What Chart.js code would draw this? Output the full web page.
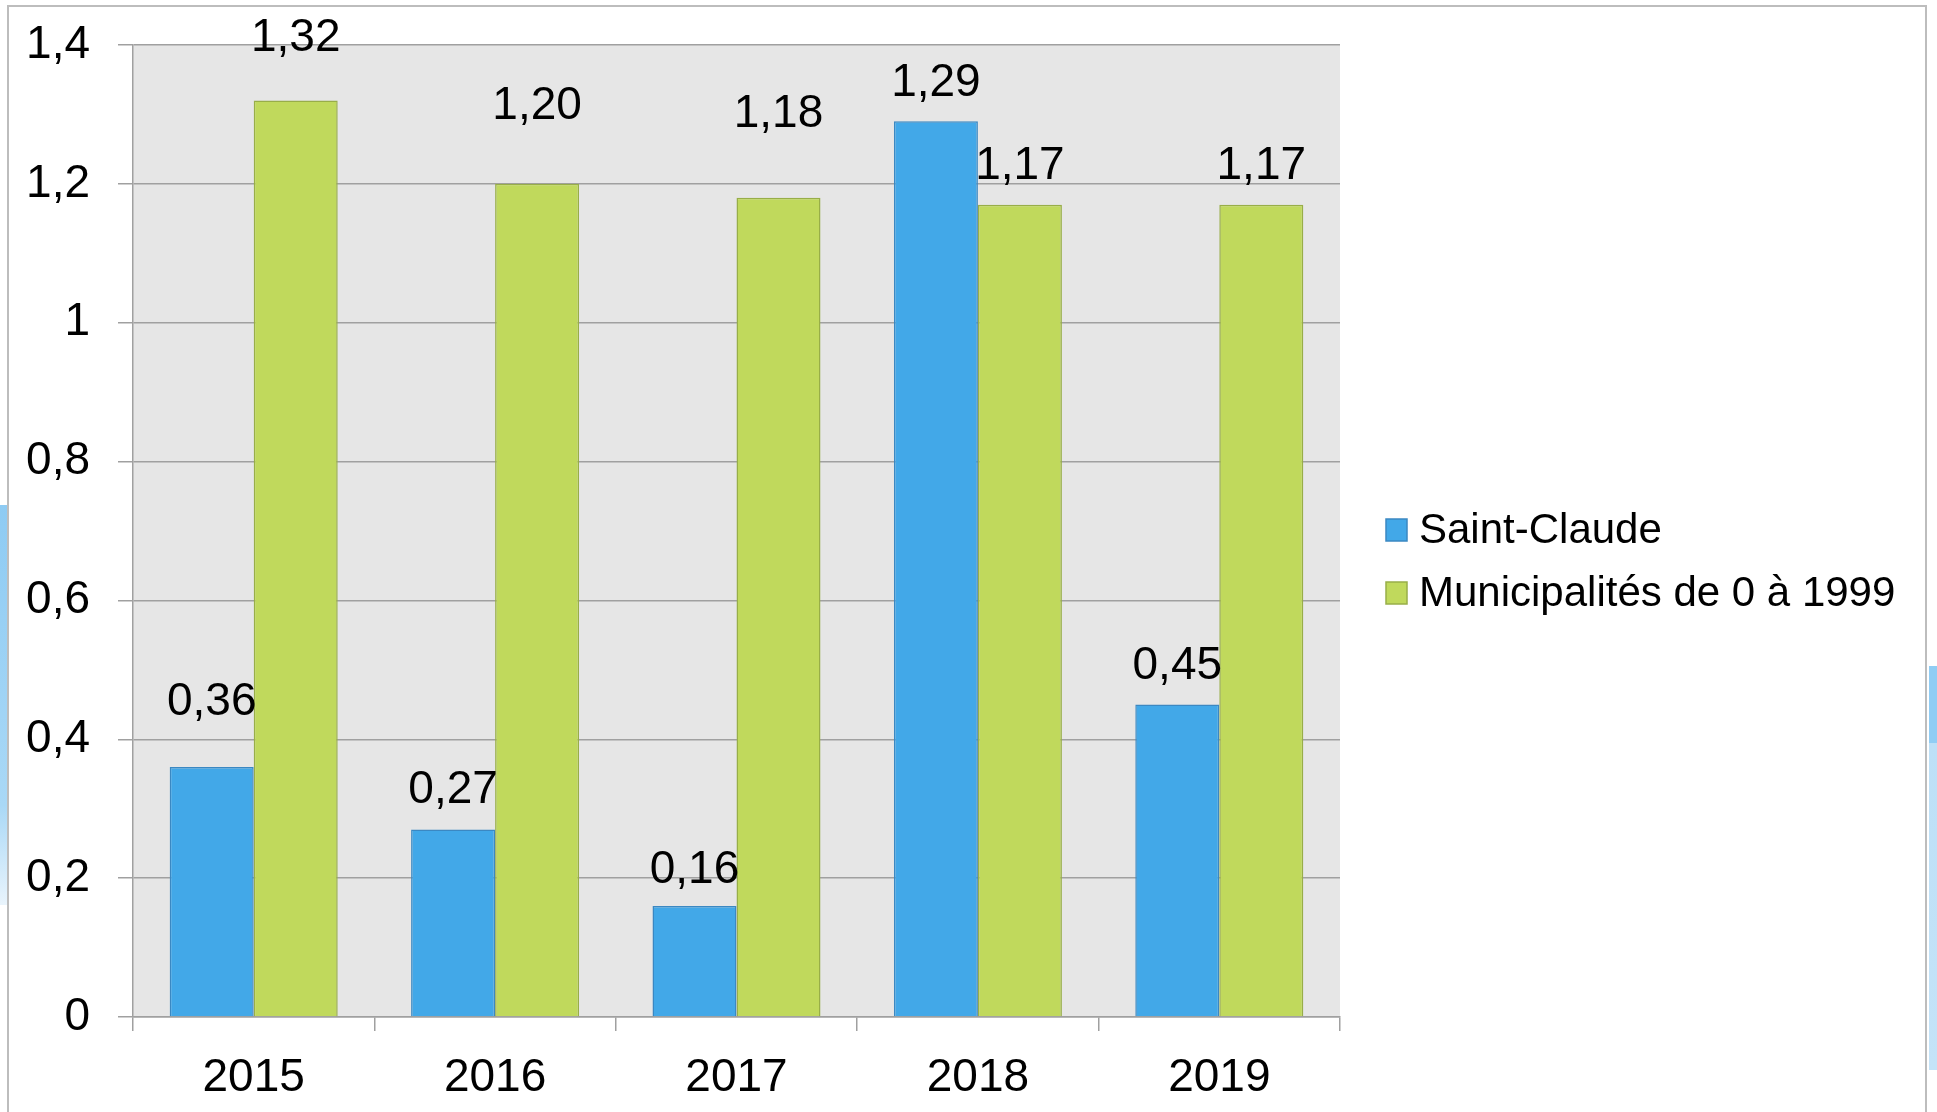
<!DOCTYPE html>
<html>
<head>
<meta charset="utf-8">
<script src="https://cdn.jsdelivr.net/npm/chart.js@4"></script>
<style>
  html, body { margin: 0; padding: 0; background: #fff; overflow: hidden; }
  .deco-left { position: absolute; left: 0; top: 505px; width: 8px; height: 400px;
    background: linear-gradient(180deg, #8ecbf3, #a9d8f6 75%, #e9f4fc); }
  .deco-right { position: absolute; left: 1929px; top: 666px; width: 8px; height: 404px;
    background: linear-gradient(180deg, #90cdf4 0, #90cdf4 19%, #bde0f7 19%, #c4e3f8 100%); }
  .frame { position: absolute; left: 7px; top: 5px; width: 1920px; height: 1200px;
    border: 2px solid #bdbdbd; background: #fff; box-sizing: border-box; }
  #chart { position: absolute; left: 0; top: 0; }
</style>
</head>
<body>
<div class="deco-left"></div>
<div class="deco-right"></div>
<div class="frame"></div>
<canvas id="chart" width="1937" height="1112"></canvas>
<script>
// data
const years = ['2015', '2016', '2017', '2018', '2019'];
const saintClaude = [0.36, 0.27, 0.16, 1.29, 0.45];
const municipalites = [1.32, 1.20, 1.18, 1.17, 1.17];
const seriesNames = ['Saint-Claude', 'Municipalités de 0 à 1999'];
const yMax = 1.4;
const yStep = 0.2;

// label lift above each bar top (px), labels were placed by hand in the original
const liftSaintClaude = [65, 39, 36, 38, 38];
const liftMunicipalites = [62, 78, 83, 38, 38];

const FONT = "'Liberation Sans', Arial, sans-serif";
const comma = (v, d) => (d == null ? String(Math.round(v * 10) / 10) : v.toFixed(d)).replace('.', ',');

// gray plot background
const plotBg = {
  id: 'plotBg',
  beforeDraw(chart) {
    const { ctx, chartArea: a } = chart;
    ctx.save();
    ctx.fillStyle = '#e6e6e6';
    ctx.fillRect(a.left, a.top, a.right - a.left, a.bottom - a.top);
    ctx.restore();
  }
};

// value labels above the bars
const valueLabels = {
  id: 'valueLabels',
  afterDatasetsDraw(chart) {
    const { ctx } = chart;
    const lifts = [liftSaintClaude, liftMunicipalites];
    ctx.save();
    ctx.font = '46px ' + FONT;
    ctx.fillStyle = '#000';
    ctx.textAlign = 'center';
    ctx.textBaseline = 'middle';
    chart.data.datasets.forEach((ds, di) => {
      chart.getDatasetMeta(di).data.forEach((bar, i) => {
        ctx.fillText(comma(ds.data[i], 2), bar.x, bar.y - lifts[di][i]);
      });
    });
    ctx.restore();
  }
};

// legend on the right
const sideLegend = {
  id: 'sideLegend',
  afterDraw(chart) {
    const { ctx } = chart;
    const rows = [530, 593];
    ctx.save();
    ctx.font = '42px ' + FONT;
    ctx.textBaseline = 'middle';
    chart.data.datasets.forEach((ds, i) => {
      const y = rows[i];
      ctx.fillStyle = ds.backgroundColor;
      ctx.fillRect(1386, y - 11, 21, 22);
      ctx.strokeStyle = ds.borderColor;
      ctx.lineWidth = 1.5;
      ctx.strokeRect(1386, y - 11, 21, 22);
      ctx.fillStyle = '#000';
      ctx.fillText(ds.label, 1419, y + 1);
    });
    ctx.restore();
  }
};

new Chart(document.getElementById('chart'), {
  type: 'bar',
  data: {
    labels: years,
    datasets: [
      { label: seriesNames[0], data: saintClaude, backgroundColor: '#42a8e8', borderColor: '#3b88c2', borderWidth: 1.5 },
      { label: seriesNames[1], data: municipalites, backgroundColor: '#c0d95c', borderColor: '#98ae48', borderWidth: 1.5 }
    ]
  },
  options: {
    responsive: false,
    devicePixelRatio: 1,
    animation: false,
    categoryPercentage: 0.696,
    barPercentage: 1.0,
    layout: { padding: { left: 0, top: 45, right: 597, bottom: 0 } },
    plugins: { legend: { display: false }, tooltip: { enabled: false } },
    scales: {
      x: {
        grid: { drawOnChartArea: false, color: '#a0a0a0', lineWidth: 1.5, tickLength: 14 },
        border: { color: '#a0a0a0', width: 1.5 },
        ticks: { color: '#000', font: { family: FONT, size: 46 }, padding: 20 },
        afterFit(scale) { scale.height = 95; scale.paddingLeft = 0; scale.paddingRight = 0; }
      },
      y: {
        min: 0,
        max: yMax,
        ticks: { stepSize: yStep, color: '#000', font: { family: FONT, size: 46 }, padding: 28,
          callback: v => comma(v) },
        grid: { color: '#a0a0a0', lineWidth: 1.5, tickLength: 15 },
        border: { color: '#a0a0a0', width: 1.5 },
        afterFit(scale) { scale.width = 133; scale.paddingTop = 0; scale.paddingBottom = 0; }
      }
    }
  },
  plugins: [plotBg, valueLabels, sideLegend]
});
</script>
</body>
</html>
